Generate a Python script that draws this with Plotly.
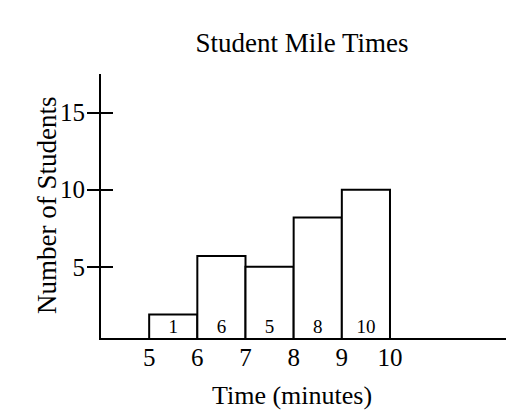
import plotly.graph_objects as go

# histogram bins (minutes), drawn bar heights and the counts written in each bar
bin_starts = [5, 6, 7, 8, 9]
bar_heights = [1.9, 5.7, 5.0, 8.2, 10.0]
bar_counts = [1, 6, 5, 8, 10]
x_ticks = [5, 6, 7, 8, 9, 10]
y_ticks = [5, 10, 15]

FONT = "Liberation Serif, Times New Roman, serif"
X_RANGE = [4, 12.45]
Y_RANGE = [0.38, 17.5]

centers = [s + 0.5 for s in bin_starts]

fig = go.Figure()

fig.add_trace(go.Bar(
    x=centers,
    y=bar_heights,
    width=1,
    marker=dict(color="white", line=dict(color="black", width=2)),
    hoverinfo="skip",
))

fig.add_trace(go.Scatter(
    x=centers,
    y=[1.0] * len(centers),
    mode="text",
    text=[str(c) for c in bar_counts],
    textfont=dict(family=FONT, size=19, color="black"),
    yaxis="y2",
    hoverinfo="skip",
))

# the page body adds an 8px offset, margins below allow for it
fig.update_layout(
    width=514,
    height=418,
    margin=dict(l=93, r=14, t=66, b=88),
    paper_bgcolor="white",
    plot_bgcolor="white",
    showlegend=False,
    font=dict(family=FONT, color="black"),
    title=dict(
        text="Student Mile Times",
        x=0.572, xanchor="center",
        y=0.918, yanchor="middle",
        font=dict(family=FONT, size=27, color="black"),
    ),
    xaxis=dict(
        range=X_RANGE,
        tickvals=x_ticks,
        ticks="",
        ticklabelstandoff=-4,
        showgrid=False,
        zeroline=False,
        showline=True,
        linecolor="black",
        linewidth=2,
        automargin=False,
        tickfont=dict(family=FONT, size=25, color="black"),
    ),
    yaxis=dict(
        range=Y_RANGE,
        tickvals=y_ticks,
        ticks="outside",
        ticklen=12,
        tickwidth=2,
        tickcolor="black",
        ticklabelstandoff=-3,
        showgrid=False,
        zeroline=False,
        showline=True,
        linecolor="black",
        linewidth=2,
        automargin=False,
        tickfont=dict(family=FONT, size=25, color="black"),
    ),
    yaxis2=dict(
        range=Y_RANGE,
        overlaying="y",
        tickvals=y_ticks,
        ticks="inside",
        ticklen=12,
        tickwidth=2,
        tickcolor="black",
        showticklabels=False,
        showgrid=False,
        zeroline=False,
        showline=False,
    ),
    annotations=[
        dict(
            text="Time (minutes)",
            x=7.97, xref="x",
            y=-0.216, yref="paper",
            xanchor="center", yanchor="middle",
            showarrow=False,
            font=dict(family=FONT, size=26, color="black"),
        ),
        dict(
            text="Number of Students",
            x=0, xref="paper", xshift=-54,
            y=0.5, yref="paper",
            xanchor="center", yanchor="middle",
            textangle=-90,
            showarrow=False,
            font=dict(family=FONT, size=27, color="black"),
        ),
    ],
)

fig.write_html("out.html")
